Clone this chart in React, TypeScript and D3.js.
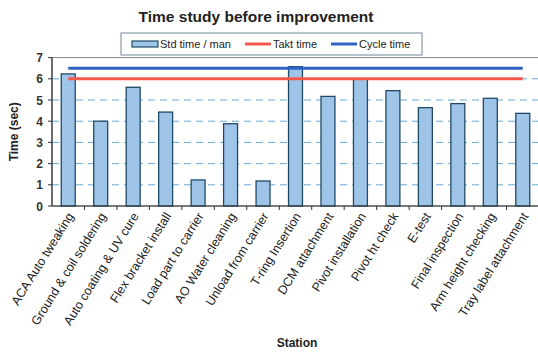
import React from "react";
import * as d3 from "d3";

const stations = [
  "ACA Auto tweaking",
  "Ground & coil soldering",
  "Auto coating & UV cure",
  "Flex bracket install",
  "Load part to carrier",
  "AO Water cleaning",
  "Unload from carrier",
  "T-ring Insertion",
  "DCM attachment",
  "Pivot installation",
  "Pivot ht check",
  "E-test",
  "Final inspection",
  "Arm height checking",
  "Tray label attachment",
];
const stdTime = [6.23, 4.0, 5.6, 4.43, 1.23, 3.88, 1.18, 6.57, 5.17, 6.0, 5.44, 4.64, 4.83, 5.08, 4.37];
const taktTime = 6.0;
const cycleTime = 6.5;
const yTicks = [0, 1, 2, 3, 4, 5, 6, 7];

const W = 538;
const H = 352;
const left = 52;
const right = 539;
const top = 57.6;
const bottom = 206;
const font = "'Liberation Sans', Arial, sans-serif";

export default function App() {
  const x = d3.scaleBand<string>().domain(stations).range([left, right]).paddingInner(0.57).paddingOuter(0.285);
  const y = d3.scaleLinear().domain([0, 7]).range([bottom, top]);
  const step = x.step();
  const bandStart = (i: number) => left + i * step;
  const cx = (s: string) => (x(s) as number) + x.bandwidth() / 2;
  const first = cx(stations[0]);
  const last = cx(stations[stations.length - 1]);

  return (
    <svg width={W} height={H} style={{ position: "absolute", left: 0, top: 0, background: "#fff" }} fontFamily={font}>
      <text x={256} y={22} textAnchor="middle" fontSize={15.5} fontWeight="bold" fill="#222">
        Time study before improvement
      </text>
      {/* plot border */}
      <rect x={left} y={top} width={right - left} height={bottom - top} fill="#fff" stroke="#7a8a96" strokeWidth={1} />
      {/* gridlines */}
      {yTicks.filter((t) => t > 0 && t < 7).map((t) => (
        <line key={t} x1={left} x2={right} y1={y(t)} y2={y(t)} stroke="#6aa8cc" strokeWidth={1} strokeDasharray="7,5" />
      ))}
      {/* bars */}
      {stations.map((s, i) => (
        <rect key={s} x={x(s)} y={y(stdTime[i])} width={x.bandwidth()} height={bottom - y(stdTime[i])} fill="#9ec5e8" stroke="#1f4a66" strokeWidth={1.3} />
      ))}
      {/* lines */}
      <line x1={first} x2={last} y1={y(taktTime)} y2={y(taktTime)} stroke="#f4584c" strokeWidth={3} />
      <line x1={first} x2={last} y1={y(cycleTime)} y2={y(cycleTime)} stroke="#2f62c4" strokeWidth={3} />
      {/* axes */}
      <line x1={left} x2={left} y1={top} y2={bottom} stroke="#333" strokeWidth={1.2} />
      <line x1={left} x2={right} y1={bottom} y2={bottom} stroke="#333" strokeWidth={1.2} />
      {yTicks.map((t) => (
        <g key={t}>
          <line x1={left - 4} x2={left} y1={y(t)} y2={y(t)} stroke="#333" />
          <text x={left - 9} y={y(t) + 4.5} textAnchor="end" fontSize={12} fontWeight="bold" fill="#333">
            {t}
          </text>
        </g>
      ))}
      {stations.map((s, i) => (
        <line key={"t" + i} x1={bandStart(i + 1)} x2={bandStart(i + 1)} y1={bottom} y2={bottom + 4} stroke="#333" />
      ))}
      {stations.map((s) => (
        <text key={"l" + s} transform={`translate(${cx(s) + 6},${bottom + 10}) rotate(-58)`} textAnchor="end" fontSize={12.5} fill="#222">
          {s}
        </text>
      ))}
      <text transform={`translate(18,${(top + bottom) / 2}) rotate(-90)`} textAnchor="middle" fontSize={12} fontWeight="bold" fill="#222">
        Time (sec)
      </text>
      <text x={297} y={347} textAnchor="middle" fontSize={12} fontWeight="bold" fill="#222">
        Station
      </text>
      {/* legend */}
      <rect x={121} y={33} width={301} height={22} fill="#fff" stroke="#6e8796" strokeWidth={1} />
      <rect x={132} y={41} width={26} height={6} fill="#9ec5e8" stroke="#1f4a66" strokeWidth={1.2} />
      <text x={160} y={48} fontSize={11} fill="#222">Std time / man</text>
      <line x1={245} x2={271} y1={44} y2={44} stroke="#f4584c" strokeWidth={3} />
      <text x={273} y={48} fontSize={11} fill="#222">Takt time</text>
      <line x1={331} x2={357} y1={44} y2={44} stroke="#2f62c4" strokeWidth={3} />
      <text x={359} y={48} fontSize={11} fill="#222">Cycle time</text>
    </svg>
  );
}
